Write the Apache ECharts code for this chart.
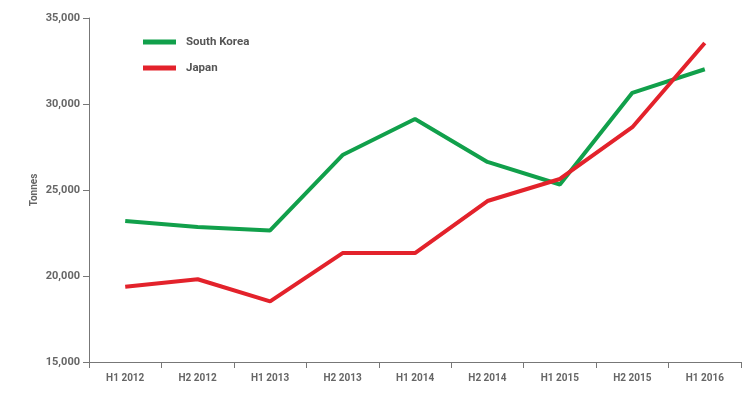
<!DOCTYPE html>
<html>
<head>
<meta charset="utf-8">
<script src="https://cdn.jsdelivr.net/npm/echarts@6/dist/echarts.min.js"></script>
<style>html,body{margin:0;padding:0;background:#fff;}#c{width:749px;height:393px;}</style>
</head>
<body>
<div id="c"></div>
<script>
const categories = ['H1 2012','H2 2012','H1 2013','H2 2013','H1 2014','H2 2014','H1 2015','H2 2015','H1 2016'];
const southKorea = [23200, 22850, 22650, 27030, 29130, 26630, 25320, 30650, 32020];
const japan = [19380, 19810, 18520, 21330, 21330, 24360, 25640, 28650, 33550];
const yTicks = [15000, 20000, 25000, 30000, 35000];

const chart = echarts.init(document.getElementById('c'));
const axisColor = '#777';
const labelColor = '#666';
const font = 'Roboto';
chart.setOption({
  animation: false,
  grid: {left: 89, right: 8, top: 18, bottom: 31},
  legend: {
    left: 138, top: 30, orient: 'vertical', itemGap: 12,
    itemWidth: 33, itemHeight: 5,
    icon: 'rect',
    textStyle: {color: '#555', fontFamily: font, fontWeight: 'bold', fontSize: 11.5, padding: [0,0,0,5], lineHeight: 14},
    data: [
      {name: 'South Korea', itemStyle: {color: '#11a04b'}},
      {name: 'Japan', itemStyle: {color: '#e3222b'}}
    ]
  },
  xAxis: {
    type: 'category', data: categories, boundaryGap: true,
    axisLine: {lineStyle: {color: axisColor, width: 1}},
    axisTick: {show: true, length: 6, lineStyle: {color: axisColor}},
    axisLabel: {color: labelColor, fontFamily: font, fontWeight: 'bold', fontSize: 10, margin: 11}
  },
  yAxis: {
    type: 'value', min: yTicks[0], max: yTicks[yTicks.length-1], interval: 5000,
    name: 'Tonnes', nameLocation: 'middle', nameGap: 50, nameRotate: 90, nameMoveOverlap: false,
    nameTextStyle: {color: labelColor, fontFamily: font, fontWeight: 'bold', fontSize: 10},
    axisLine: {show: true, lineStyle: {color: axisColor, width: 1}},
    axisTick: {show: true, length: 6, lineStyle: {color: axisColor}},
    splitLine: {show: false},
    axisLabel: {color: labelColor, fontFamily: font, fontWeight: 'bold', fontSize: 11, margin: 9,
      formatter: v => v.toLocaleString('en-US')}
  },
  series: [
    {name: 'South Korea', type: 'line', data: southKorea, symbol: 'none',
     lineStyle: {color: '#11a04b', width: 4}, itemStyle: {color: '#11a04b'}},
    {name: 'Japan', type: 'line', data: japan, symbol: 'none',
     lineStyle: {color: '#e3222b', width: 4}, itemStyle: {color: '#e3222b'}}
  ]
});
</script>
</body>
</html>
